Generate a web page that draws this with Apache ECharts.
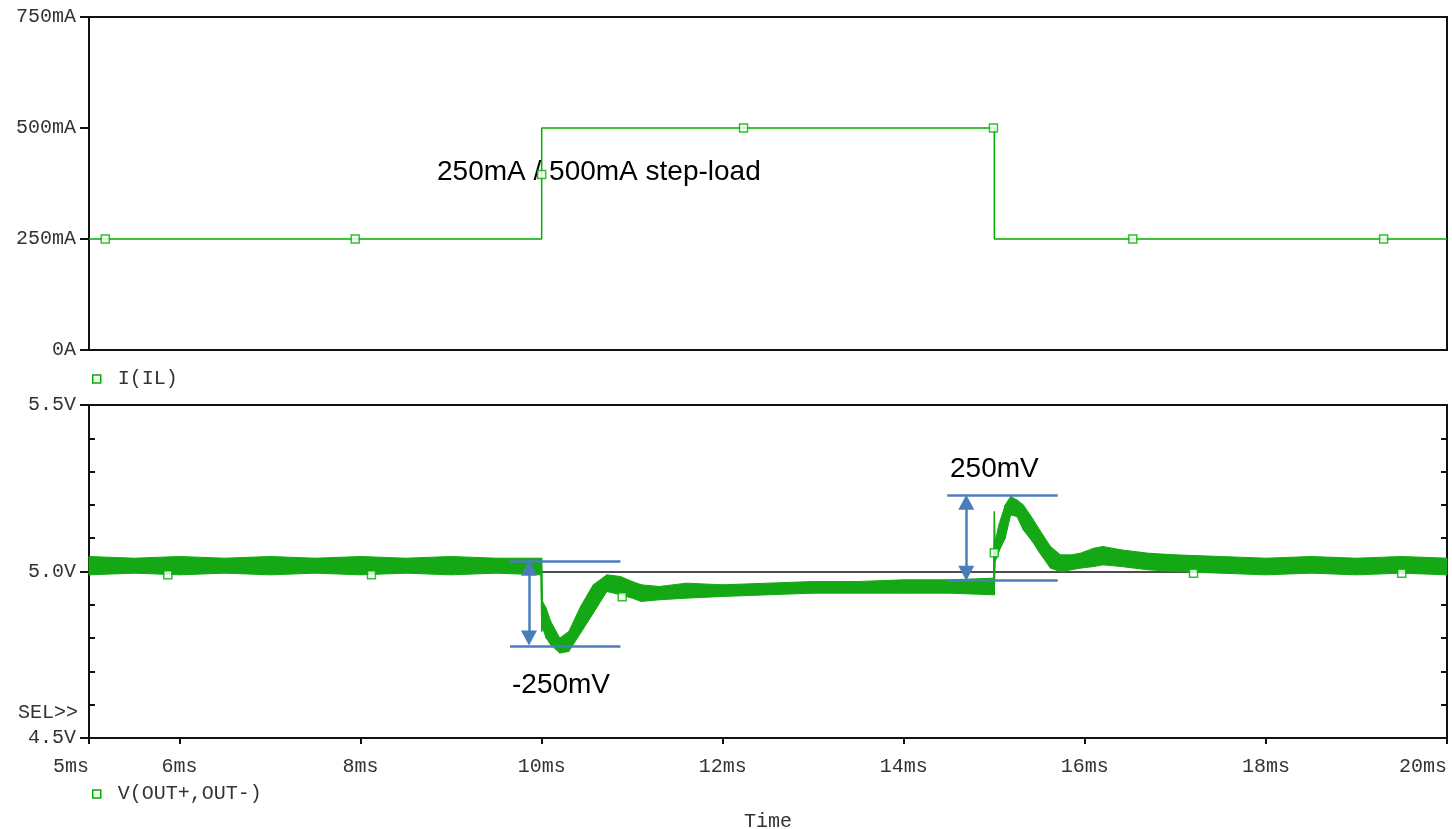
<!DOCTYPE html>
<html>
<head>
<meta charset="utf-8">
<title>Step-load response</title>
<script src="https://cdn.jsdelivr.net/npm/echarts@6/dist/echarts.min.js"></script>
<style>
  html, body { margin: 0; padding: 0; background: #fff; }
  #chart { width: 1452px; height: 829px; }
</style>
</head>
<body>
<div id="chart"></div>
<script>
// time axis (ms) and tick labels
var timeTicks = [5, 6, 8, 10, 12, 14, 16, 18, 20];
var currentTicks = [0, 250, 500, 750];
var voltTicks = [4.5, 5.0, 5.5];

// I(IL), mA
var iTime = [5, 10, 10, 15, 15, 20];
var iLoad = [250, 250, 500, 500, 250, 250];
var iMarkTime = [5.18, 7.94, 10, 12.23, 14.99, 16.53, 19.3];
var iMarkLoad = [250, 250, 395, 500, 500, 250, 250];

// V(OUT+,OUT-), ripple band read as upper / lower edge, V
var vTime = [5.0, 5.5, 6.0, 6.5, 7.0, 7.5, 8.0, 8.5, 9.0, 9.5, 9.99,
  10.0, 10.01, 10.05, 10.1, 10.2, 10.3, 10.43, 10.57, 10.72, 10.87,
  11.0, 11.1, 11.3, 11.6, 12.0, 12.5, 13.0, 13.5, 14.0, 14.5, 14.99,
  15.0, 15.01, 15.05, 15.12, 15.18, 15.25, 15.32, 15.42, 15.5, 15.62, 15.73, 15.85, 15.95,
  16.1, 16.2, 16.4, 16.7, 17.0, 17.5, 18.0, 18.5, 19.0, 19.5, 20.0];
var vHigh = [5.045, 5.04, 5.045, 5.04, 5.045, 5.04, 5.045, 5.04, 5.045, 5.04, 5.04,
  5.04, 4.91, 4.89, 4.85, 4.80, 4.82, 4.895, 4.96, 4.99, 4.985,
  4.97, 4.96, 4.955, 4.965, 4.96, 4.965, 4.97, 4.97, 4.975, 4.975, 4.98,
  5.18, 5.09, 5.14, 5.20, 5.225, 5.215, 5.20, 5.16, 5.125, 5.075, 5.05, 5.05, 5.055,
  5.07, 5.075, 5.065, 5.055, 5.05, 5.045, 5.04, 5.045, 5.04, 5.045, 5.04];
var vLow = [4.99, 4.995, 4.99, 4.995, 4.99, 4.995, 4.99, 4.995, 4.99, 4.995, 4.99,
  4.82, 4.83, 4.80, 4.78, 4.755, 4.76, 4.815, 4.875, 4.94, 4.93,
  4.92, 4.91, 4.915, 4.92, 4.925, 4.93, 4.935, 4.935, 4.935, 4.935, 4.93,
  4.93, 5.03, 5.06, 5.10, 5.17, 5.165, 5.125, 5.09, 5.056, 5.01, 5.0, 5.005, 5.01,
  5.015, 5.02, 5.015, 5.005, 5.0, 4.995, 4.99, 4.995, 4.99, 4.995, 4.99];
var vMarkTime = [5.87, 8.12, 10.89, 15.0, 17.2, 19.5];
var vMarkVolt = [4.99, 4.99, 4.924, 5.056, 4.995, 4.995];

var green = '#00b000';
var bandGreen = '#14a814';
var blue = '#4a7ebb';
var mono = '"Liberation Mono", "Courier New", monospace';
var sans = '28px "Liberation Sans", Arial, sans-serif';

function pairs(xs, ys) {
  var out = [];
  for (var i = 0; i < xs.length; i++) {
    out.push([xs[i], ys[i]]);
  }
  return out;
}

// one segment of the band per item: [t0, hi0, lo0, t1, hi1, lo1]
var bandSegments = [];
for (var i = 0; i < vTime.length - 1; i++) {
  bandSegments.push([vTime[i], vHigh[i], vLow[i], vTime[i + 1], vHigh[i + 1], vLow[i + 1]]);
}

function renderBand(params, api) {
  var a = api.coord([api.value(0), api.value(1)]);
  var b = api.coord([api.value(3), api.value(4)]);
  var c = api.coord([api.value(3), api.value(5)]);
  var d = api.coord([api.value(0), api.value(2)]);
  return {
    type: 'polygon',
    shape: { points: [a, b, c, d] },
    style: { fill: bandGreen, stroke: bandGreen, lineWidth: 1 }
  };
}

var labelStyle = { fontFamily: mono, fontSize: 20, color: '#333' };

var option = {
  animation: false,
  backgroundColor: '#fff',
  grid: [
    { left: 89, top: 17, width: 1358, height: 333, outerBoundsMode: 'none', show: true, borderColor: '#111', borderWidth: 2 },
    { left: 89, top: 405, width: 1358, height: 333, outerBoundsMode: 'none', show: true, borderColor: '#111', borderWidth: 2 }
  ],
  legend: [
    {
      left: 92, top: 369, padding: 0, icon: 'rect', itemWidth: 8, itemHeight: 8,
      formatter: function (name) { return ' ' + name; },
      textStyle: labelStyle,
      data: [{ name: 'I(IL)', itemStyle: { color: '#fff', borderColor: green, borderWidth: 1.5 } }]
    },
    {
      left: 92, top: 784, padding: 0, icon: 'rect', itemWidth: 8, itemHeight: 8,
      formatter: function (name) { return ' ' + name; },
      textStyle: labelStyle,
      data: [{ name: 'V(OUT+,OUT-)', itemStyle: { color: '#fff', borderColor: green, borderWidth: 1.5 } }]
    }
  ],
  xAxis: [
    {
      gridIndex: 0, type: 'value', min: 5, max: 20,
      axisLine: { lineStyle: { color: '#111', width: 2 } },
      axisTick: { show: false }, axisLabel: { show: false }, splitLine: { show: false }
    },
    {
      gridIndex: 1, type: 'value', min: 5, max: 20,
      name: 'Time', nameLocation: 'middle', nameGap: 74,
      nameTextStyle: labelStyle,
      axisLine: { lineStyle: { color: '#111', width: 2 } },
      axisTick: { customValues: timeTicks, length: 6, lineStyle: { color: '#111', width: 2 } },
      axisLabel: {
        customValues: timeTicks, margin: 19, fontFamily: mono, fontSize: 20, color: '#333',
        alignMinLabel: 'right', alignMaxLabel: 'right',
        formatter: function (v) { return v + 'ms'; }
      },
      splitLine: { show: false }
    }
  ],
  yAxis: [
    {
      gridIndex: 0, type: 'value', min: 0, max: 750, interval: 250, position: 'left',
      axisLine: { show: true, lineStyle: { color: '#111', width: 2 } },
      axisTick: { show: true, length: 9, lineStyle: { color: '#111', width: 2 } },
      axisLabel: {
        customValues: currentTicks, margin: 13, fontFamily: mono, fontSize: 20, color: '#333',
        formatter: function (v) { return v === 0 ? '0A' : v + 'mA'; }
      },
      splitLine: { show: false }
    },
    {
      gridIndex: 1, type: 'value', min: 4.5, max: 5.5, interval: 0.5, position: 'left',
      axisLine: { show: true, lineStyle: { color: '#111', width: 2 } },
      axisTick: { show: true, length: 9, lineStyle: { color: '#111', width: 2 } },
      axisLabel: {
        customValues: voltTicks, margin: 13, fontFamily: mono, fontSize: 20, color: '#333',
        formatter: function (v) { return v.toFixed(1) + 'V'; }
      },
      splitLine: { show: false }
    },
    {
      gridIndex: 1, type: 'value', min: 4.5, max: 5.5, interval: 0.1, position: 'left',
      axisLine: { show: false },
      axisTick: { show: true, inside: true, length: 6, lineStyle: { color: '#111', width: 2 } },
      axisLabel: { show: false }, splitLine: { show: false }
    },
    {
      gridIndex: 1, type: 'value', min: 4.5, max: 5.5, interval: 0.1, position: 'right',
      axisLine: { show: true, lineStyle: { color: '#111', width: 2 } },
      axisTick: { show: true, inside: true, length: 6, lineStyle: { color: '#111', width: 2 } },
      axisLabel: { show: false }, splitLine: { show: false }
    }
  ],
  graphic: [
    { type: 'text', left: 437, top: 158, style: { text: '250mA / 500mA step-load', font: sans, fill: '#000' } },
    { type: 'text', left: 950, top: 455, style: { text: '250mV', font: sans, fill: '#000' } },
    { type: 'text', left: 512, top: 671, style: { text: '-250mV', font: sans, fill: '#000' } },
    { type: 'text', left: 18, top: 703, style: { text: 'SEL>>', font: '20px ' + mono, fill: '#333' } }
  ],
  series: [
    {
      name: 'I(IL)', type: 'line', xAxisIndex: 0, yAxisIndex: 0,
      data: pairs(iTime, iLoad), showSymbol: false,
      lineStyle: { color: green, width: 1.5 }, itemStyle: { color: green }
    },
    {
      name: 'I markers', type: 'scatter', xAxisIndex: 0, yAxisIndex: 0,
      data: pairs(iMarkTime, iMarkLoad), symbol: 'rect', symbolSize: 8, z: 4,
      itemStyle: { color: '#fff', borderColor: green, borderWidth: 1.5 }
    },
    {
      name: 'V(OUT+,OUT-)', type: 'custom', xAxisIndex: 1, yAxisIndex: 1,
      data: bandSegments, renderItem: renderBand, z: 3,
      encode: { x: [0, 3], y: [1, 2, 4, 5] },
      itemStyle: { color: bandGreen },
      markLine: {
        silent: true, symbol: ['none', 'none'], label: { show: false }, z: 1,
        lineStyle: { color: '#111', width: 1.5, type: 'solid' },
        data: [{ yAxis: 5.0 }]
      }
    },
    {
      name: 'V markers', type: 'scatter', xAxisIndex: 1, yAxisIndex: 1,
      data: pairs(vMarkTime, vMarkVolt), symbol: 'rect', symbolSize: 8, z: 5,
      itemStyle: { color: '#fff', borderColor: green, borderWidth: 1.5 },
      markLine: {
        silent: true, symbol: ['none', 'none'], label: { show: false },
        lineStyle: { color: blue, width: 2.5, type: 'solid' },
        data: [
          [{ coord: [9.65, 5.032] }, { coord: [10.87, 5.032] }],
          [{ coord: [9.65, 4.776] }, { coord: [10.87, 4.776] }],
          [{ coord: [9.86, 5.01], symbol: 'triangle', symbolSize: [16, 15] },
           { coord: [9.86, 4.80], symbol: 'triangle', symbolSize: [16, 15] }],
          [{ coord: [14.48, 5.23] }, { coord: [15.70, 5.23] }],
          [{ coord: [14.48, 4.974] }, { coord: [15.70, 4.974] }],
          [{ coord: [14.69, 5.208], symbol: 'triangle', symbolSize: [16, 15] },
           { coord: [14.69, 4.995], symbol: 'triangle', symbolSize: [16, 15] }]
        ]
      }
    }
  ]
};

var myChart = echarts.init(document.getElementById('chart'));
myChart.setOption(option);
</script>
</body>
</html>
